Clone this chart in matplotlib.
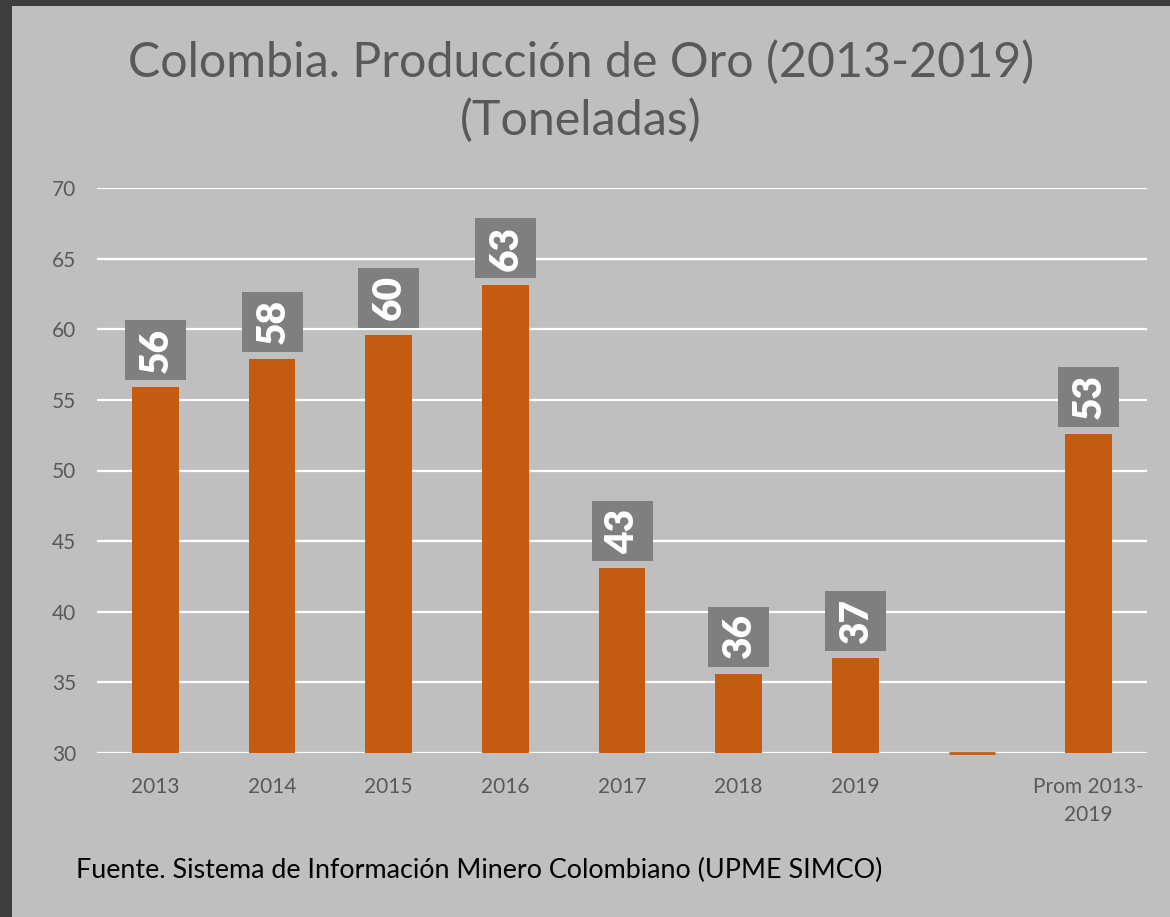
import matplotlib
matplotlib.use("Agg")
import matplotlib.pyplot as plt
import matplotlib.transforms as mtransforms
import numpy as np

categories = ["2013", "2014", "2015", "2016", "2017", "2018", "2019", "", "Prom 2013-\n2019"]
values = [55.9, 57.9, 59.6, 63.1, 43.1, 35.6, 36.7, 0.0, 52.6]
show_label = [True, True, True, True, True, True, True, False, True]
yticks = [30, 35, 40, 45, 50, 55, 60, 65, 70]
title_lines = ["Colombia. Producción de Oro (2013-2019)", "(Toneladas)"]
source_text = "Fuente. Sistema de Información Minero Colombiano (UPME SIMCO)"

BG = "#bfbfbf"
BORDER = "#3d3d3d"
BAR = "#c55a11"
TXT = "#595959"
BOX = "#7f7f7f"
FONT = ["Lato", "DejaVu Sans"]

plt.rcParams["font.family"] = FONT

fig = plt.figure(figsize=(11.7, 9.17), dpi=100)
fig.patch.set_facecolor(BORDER)
# light panel (border only at top and left)
panel = plt.Rectangle((12 / 1170, 0), 1 - 12 / 1170, 1 - 6 / 917, transform=fig.transFigure,
                      facecolor=BG, edgecolor="none", zorder=-10)
fig.patches.append(panel)

ax = fig.add_axes([97 / 1170, (917 - 753) / 917, (1147 - 97) / 1170, (753 - 188) / 917])
ax.set_zorder(1)
ax.patch.set_alpha(0)

ymin, ymax = yticks[0], yticks[-1]
x = np.arange(len(categories))
heights = [max(v, ymin) - ymin for v in values]
bars = ax.bar(x, heights, bottom=ymin, width=0.40, color=BAR, zorder=2)
for b, h in zip(bars, heights):
    if h == 0:
        b.set_edgecolor(BAR)
        b.set_linewidth(2)
        b.set_clip_on(False)
        b.set_zorder(1)

ax.set_ylim(ymin, ymax)
ax.set_xlim(-0.5, len(categories) - 0.5)
ax.set_yticks(yticks)
ax.set_xticks(x)
ax.set_xticklabels(categories, linespacing=1.5)
ax.tick_params(axis="both", length=0, labelsize=15, labelcolor=TXT)
ax.tick_params(axis="y", pad=15)
ax.tick_params(axis="x", pad=17)
ax.yaxis.grid(True, color="white", linewidth=1.6, zorder=1)
ax.set_axisbelow(True)
for s in ax.spines.values():
    s.set_visible(False)

# data labels: fixed-size grey boxes (in inches) anchored on bar tops
box_w, box_h, gap = 0.61, 0.60, 0.07
for xi, v, h, show in zip(x, values, heights, show_label):
    if not show:
        continue
    trans = fig.dpi_scale_trans + mtransforms.ScaledTranslation(xi, ymin + h, ax.transData)
    rect = plt.Rectangle((-box_w / 2, gap), box_w, box_h, transform=trans,
                         facecolor=BOX, edgecolor="none", zorder=3, clip_on=False)
    ax.add_patch(rect)
    ax.text(0.01, gap + box_h / 2, f"{v:.0f}", transform=trans, rotation=90,
            ha="center", va="center", fontsize=28, fontweight="heavy", color="white",
            zorder=4, clip_on=False)

fig.text(581 / 1170, 1 - 62 / 917, title_lines[0], ha="center", va="center", fontsize=34.8,
         color=TXT)
fig.text(581 / 1170, 1 - 120 / 917, title_lines[1], ha="center", va="center", fontsize=34.8,
         color=TXT)
fig.text(76 / 1170, 1 - 870 / 917, source_text, ha="left", va="center", fontsize=19.4,
         color="black")

fig.savefig("out.png", dpi=100, facecolor=fig.get_facecolor())
